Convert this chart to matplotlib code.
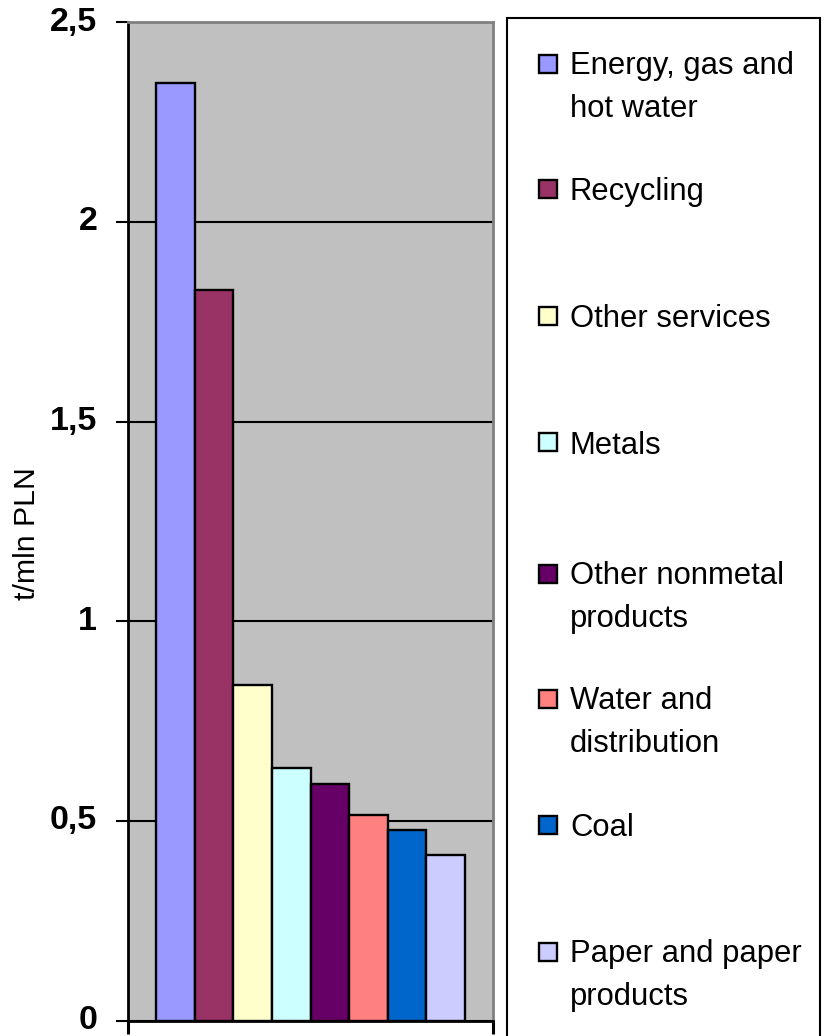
import numpy as np
import matplotlib
matplotlib.use("Agg")
import matplotlib.pyplot as plt
from matplotlib.patches import Rectangle

# ---- data ----
categories = ["Energy, gas and\nhot water", "Recycling", "Other services", "Metals",
              "Other nonmetal\nproducts", "Water and\ndistribution", "Coal",
              "Paper and paper\nproducts"]
values = [2.347, 1.830, 0.841, 0.632, 0.593, 0.515, 0.477, 0.416]
colors = ["#9999FF", "#993366", "#FFFFCC", "#CCFFFF", "#660066", "#FF8080",
          "#0066CC", "#CCCCFF"]
ytick_vals = [0, 0.5, 1, 1.5, 2, 2.5]
ytick_labels = ["0", "0,5", "1", "1,5", "2", "2,5"]
ylabel = "t/mln PLN"

# ---- layout ----
W, H, DPI = 827, 1036, 100
plt.rcParams['font.family'] = ['Liberation Sans', 'DejaVu Sans']

fig = plt.figure(figsize=(W / DPI, H / DPI), dpi=DPI)
fig.patch.set_facecolor("white")

def fx(px):
    return px / W

def fy(py):
    return 1 - py / H

ax_left, ax_right, ax_top, ax_bottom = 128, 493, 22.2, 1020.7
ax = fig.add_axes([fx(ax_left), fy(ax_bottom), (ax_right - ax_left) / W,
                   (ax_bottom - ax_top) / H])
ax.set_facecolor("#C0C0C0")

x = np.arange(len(values))
ax.bar(x, values, width=1.0, align="edge", color=colors, edgecolor="black",
       linewidth=1.7, zorder=3)

ax.set_xlim(-0.725, len(values) + 0.725)
ax.set_ylim(0, 2.5)
ax.set_yticks(ytick_vals)
ax.set_yticklabels(ytick_labels, fontsize=24.5, fontweight="bold", va="center")
ax.set_xticks([-0.725, len(values) + 0.725])
ax.set_xticklabels([])

ax.set_axisbelow(True)
ax.yaxis.grid(True, color="black", linewidth=1.5)
ax.xaxis.grid(False)

ax.tick_params(axis="y", direction="out", length=8.6, width=1.5, pad=13.5,
               color="black")
ax.tick_params(axis="x", direction="out", length=9, width=2.2, color="black")

for s in ["left", "bottom"]:
    ax.spines[s].set_color("black")
    ax.spines[s].set_linewidth(2)
for s in ["top", "right"]:
    ax.spines[s].set_color("#808080")
    ax.spines[s].set_linewidth(2)

ax.set_ylabel(ylabel, fontsize=21.8)
ax.yaxis.set_label_coords(-0.238, 0.488)

# ---- legend (manual, Excel-like spacing) ----
leg_box = Rectangle((fx(507), fy(1045)), (820 - 507) / W, (1045 - 18) / H,
                    transform=fig.transFigure, facecolor="white",
                    edgecolor="black", linewidth=1.5, zorder=1)
fig.add_artist(leg_box)

first_baselines = [75, 200, 327, 453.5, 585, 710, 836, 963]
line_step = 41.7
sq = 18
for lab, col, b in zip(categories, colors, first_baselines):
    cy = b - 11
    fig.add_artist(Rectangle((fx(539), fy(cy + sq / 2)), sq / W, sq / H,
                             transform=fig.transFigure, facecolor=col,
                             edgecolor="black", linewidth=1.7, zorder=2))
    nlines = lab.count("\n") + 1
    fig.text(fx(570), fy(b + line_step * (nlines - 1)), lab, fontsize=22.3,
             ha="left", va="baseline", linespacing=1.56, zorder=3)

fig.savefig("out.png", dpi=DPI)
